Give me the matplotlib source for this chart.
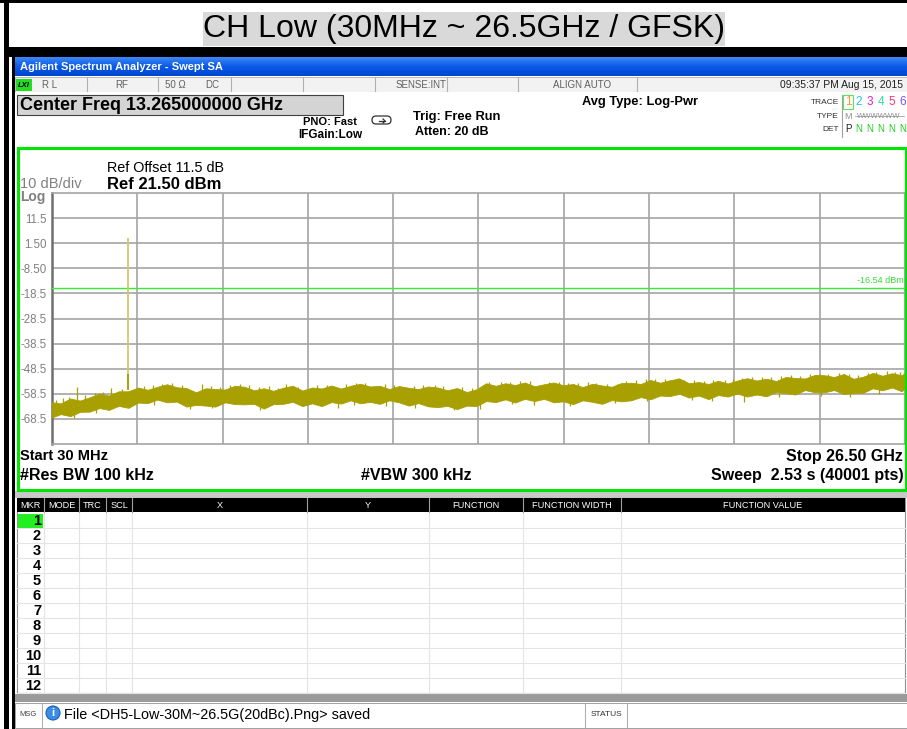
import numpy as np
import matplotlib
matplotlib.use('Agg')
import matplotlib.pyplot as plt
from matplotlib.patches import Rectangle, FancyBboxPatch, Circle
from matplotlib.colors import LinearSegmentedColormap

plt.rcParams['font.family'] = ['Liberation Sans', 'DejaVu Sans']

# ---------------- data ----------------
start_ghz = 0.03
stop_ghz = 26.5
ref_level_dbm = 21.5
bottom_dbm = -78.5
display_line_dbm = -16.54

freq_ghz = [0.03, 0.3, 0.6, 0.9, 1.2, 1.5, 1.8, 2.1, 2.4, 2.7,
            3.0, 3.3, 3.6, 3.9, 4.2, 4.5, 4.8, 5.1, 5.4, 5.7,
            6.0, 6.3, 6.6, 6.9, 7.2, 7.5, 7.8, 8.1, 8.4, 8.7,
            9.0, 9.3, 9.6, 9.9, 10.2, 10.5, 10.8, 11.1, 11.4, 11.7,
            12.0, 12.3, 12.6, 12.9, 13.2, 13.5, 13.8, 14.1, 14.4, 14.7,
            15.0, 15.3, 15.6, 15.9, 16.2, 16.5, 16.8, 17.1, 17.4, 17.7,
            18.0, 18.3, 18.6, 18.9, 19.2, 19.5, 19.8, 20.1, 20.4, 20.7,
            21.0, 21.3, 21.6, 21.9, 22.2, 22.5, 22.8, 23.1, 23.4, 23.7,
            24.0, 24.3, 24.6, 24.9, 25.2, 25.5, 25.8, 26.1, 26.4, 26.5]
trace_top_dbm = [-61.9, -62.3, -60.4, -61.2, -59.9, -58.4, -59.2, -57.5, -57.5, -56.0,
                 -56.9, -55.7, -54.7, -55.9, -56.2, -57.9, -56.3, -56.6, -56.8, -55.3,
                 -55.7, -57.1, -56.3, -57.3, -56.1, -55.3, -57.2, -56.0, -56.4, -55.2,
                 -56.4, -55.3, -54.5, -55.6, -55.3, -56.6, -55.4, -56.1, -56.6, -55.6,
                 -56.0, -57.1, -56.2, -57.8, -56.7, -54.3, -55.3, -54.3, -55.0, -54.0,
                 -55.5, -54.7, -54.0, -55.1, -54.6, -55.8, -54.5, -55.2, -55.7, -54.2,
                 -54.1, -54.6, -53.0, -54.1, -53.1, -52.4, -54.3, -53.8, -54.6, -53.3,
                 -54.4, -53.2, -52.3, -53.2, -52.5, -53.4, -51.8, -52.2, -52.4, -51.0,
                 -51.1, -51.8, -50.6, -52.5, -51.7, -50.2, -51.3, -50.3, -51.1, -50.2]
trace_bottom_dbm = [-67.9, -66.6, -67.4, -65.7, -65.6, -64.2, -64.9, -63.3, -64.1, -62.0,
                    -62.2, -60.8, -61.9, -61.6, -63.6, -62.9, -63.2, -63.6, -61.9, -62.6,
                    -62.7, -62.5, -64.4, -62.6, -62.5, -61.7, -63.4, -62.3, -63.4, -61.8,
                    -62.4, -61.1, -62.3, -61.7, -62.5, -61.1, -61.9, -63.2, -62.2, -63.5,
                    -63.8, -63.3, -64.6, -63.2, -63.4, -61.4, -61.8, -60.7, -62.0, -60.5,
                    -61.4, -60.5, -61.9, -61.5, -62.6, -61.1, -61.7, -62.5, -61.0, -61.5,
                    -61.1, -59.8, -60.7, -59.2, -59.4, -58.5, -60.0, -59.2, -60.6, -59.0,
                    -59.6, -58.4, -59.6, -58.8, -59.5, -57.8, -58.2, -58.8, -57.0, -57.9,
                    -57.9, -57.0, -58.6, -58.1, -58.1, -56.3, -57.1, -56.0, -57.5, -56.1]

# spurs / noise whiskers above the floor
whisker_freq_ghz = [0.37, 0.80, 1.05, 1.87, 2.9, 3.75, 4.68, 5.55, 6.15, 7.30,
                    8.25, 9.45, 10.35, 11.9, 13.6, 14.55, 15.75, 16.9, 18.75, 19.45,
                    20.9, 21.75, 22.95, 24.1, 25.6, 26.2,
                    0.15, 0.55, 1.35, 1.6, 2.2, 3.15, 3.45, 4.05, 4.95, 5.25,
                    5.85, 6.45, 6.75, 7.05, 7.65, 8.55, 9.15, 9.75, 10.65, 11.25,
                    11.55, 12.15, 12.75, 13.05, 13.95, 14.25, 14.85, 15.45, 16.05, 16.35,
                    16.65, 17.25, 17.55, 17.85, 18.15, 18.45, 19.05, 19.65, 19.95, 20.25,
                    20.55, 21.15, 21.45, 22.05, 22.35, 22.65, 23.25, 23.55, 23.85, 24.45,
                    24.75, 25.05, 25.35, 25.95, 26.35]
whisker_top_dbm = [-60.0, -55.7, -59.0, -56.1, -55.2, -54.3, -54.5, -54.8, -55.0, -54.5,
                   -55.0, -54.0, -54.6, -55.0, -53.8, -53.4, -53.8, -54.0, -52.6, -52.4,
                   -53.0, -52.0, -51.2, -50.8, -49.8, -50.0,
                   -61.0, -59.8, -58.3, -57.6, -56.4, -55.0, -54.6, -55.0, -55.5, -55.6,
                   -54.6, -55.8, -55.5, -56.0, -55.8, -55.0, -54.6, -54.2, -55.0, -55.2,
                   -54.8, -55.4, -55.8, -56.0, -53.6, -53.8, -53.4, -53.8, -54.0, -54.3,
                   -53.6, -54.4, -54.6, -53.4, -53.2, -52.8, -52.6, -53.0, -53.2, -53.4,
                   -53.0, -52.6, -52.4, -51.8, -52.0, -51.6, -51.4, -50.8, -50.6, -50.2,
                   -50.8, -51.0, -50.4, -49.6, -49.8]
whisker_base_dbm = [-63.5, -62.5, -62.0, -60.5, -58.5, -58.0, -59.5, -59.0, -59.0, -59.0,
                    -59.0, -58.0, -58.5, -59.0, -57.5, -57.5, -57.5, -58.0, -56.5, -56.0,
                    -56.5, -55.5, -55.0, -54.5, -53.5, -53.5,
                    -64.0, -63.0, -62.0, -61.0, -60.0, -58.0, -58.0, -58.0, -59.0, -59.0,
                    -58.0, -59.0, -59.0, -59.0, -59.0, -58.0, -58.0, -58.0, -58.0, -58.0,
                    -58.0, -58.5, -59.0, -59.0, -57.0, -57.0, -57.0, -57.0, -57.0, -57.0,
                    -57.0, -57.0, -57.0, -57.0, -56.0, -56.0, -56.0, -56.0, -56.0, -56.0,
                    -56.0, -56.0, -56.0, -55.0, -55.0, -55.0, -55.0, -54.0, -54.0, -54.0,
                    -54.0, -54.0, -54.0, -53.0, -53.0]
# downward noise whiskers below the floor
dip_freq_ghz = [4.3, 8.9, 12.5, 15.0, 21.5, 0.7, 1.4, 3.2, 5.0, 6.5,
                9.4, 10.4, 11.3, 13.3, 14.3, 16.1, 17.5, 18.5, 19.9, 20.5,
                22.6, 23.9, 24.8, 25.7]
dip_bottom_dbm = [-64.5, -64.0, -65.0, -63.0, -61.6, -68.3, -66.0, -63.0, -64.2, -64.8,
                  -63.0, -63.2, -64.0, -64.4, -62.6, -63.2, -62.2, -61.5, -61.0, -61.4,
                  -59.8, -59.2, -59.6, -58.4]
dip_top_dbm = [-60.0, -60.0, -60.5, -58.5, -57.0, -65.0, -63.0, -60.0, -61.0, -61.0,
               -60.0, -60.0, -61.0, -61.0, -60.0, -60.0, -59.0, -58.0, -58.0, -58.0,
               -57.0, -56.0, -56.0, -55.0]

carrier_freq_ghz = 2.402
carrier_peak_dbm = 3.5
carrier_shoulder_dbm = -50.8

y_tick_values = [11.5, 1.5, -8.5, -18.5, -28.5, -38.5, -48.5, -58.5, -68.5]
y_tick_labels = ['11.5', '1.50', '-8.50', '-18.5', '-28.5', '-38.5', '-48.5', '-58.5', '-68.5']

table_columns = ['MKR', 'MODE', 'TRC', 'SCL', 'X', 'Y', 'FUNCTION', 'FUNCTION WIDTH', 'FUNCTION VALUE']
table_col_edges = [17, 44, 79, 106, 132, 307, 429, 523, 621, 905]
marker_rows = ['1', '2', '3', '4', '5', '6', '7', '8', '9', '10', '11', '12']

# ---------------- figure ----------------
W, H = 907, 729
fig = plt.figure(figsize=(W / 100, H / 100), dpi=100, facecolor='white')

bg = fig.add_axes([0, 0, 1, 1], zorder=0)
bg.axis('off')


def rect(ax, x0, y0, x1, y1, fc='none', ec='none', lw=0, z=1):
    ax.add_patch(Rectangle((x0, y0), x1 - x0, y1 - y0, facecolor=fc, edgecolor=ec, linewidth=lw, zorder=z))


def txt(ax, x, y, s, size=8, weight='normal', color='black', ha='left', va='center', z=5, **kw):
    ax.text(x, y, s, fontsize=size, fontweight=weight, color=color, ha=ha, va=va, zorder=z, **kw)


# window title bar gradient
grad = np.linspace(0, 1, 20).reshape(-1, 1)
cm = LinearSegmentedColormap.from_list('bar', ['#3c86f5', '#0a5ae6', '#0046d0'])
bg.imshow(grad, cmap=cm, extent=[15, W, 76, 57], aspect='auto', zorder=1)
bg.set_xlim(0, W)
bg.set_ylim(H, 0)
txt(bg, 20, 67, 'Agilent Spectrum Analyzer - Swept SA', size=8, weight='bold', color='white')

# outer frame
rect(bg, 0, 0, W, 3, fc='black')
rect(bg, 4, 0, 9, H, fc='black')
rect(bg, 12, 47, 15, H, fc='black')
rect(bg, 9, 47, W, 57, fc='black')

# title
rect(bg, 203, 12, 725, 46, fc='#d9d9d9')
txt(bg, 464, 29, 'CH Low (30MHz ~ 26.5GHz / GFSK)', size=23, ha='center')

# status row
rect(bg, 15, 77, W, 92, fc='#f2f2f2', ec='#b0b0b0', lw=0.6)
for sx in [87, 158, 231, 303, 375, 447, 518, 637]:
    bg.plot([sx, sx], [78, 91], color='#b0b0b0', lw=0.8, zorder=2)
rect(bg, 16, 79, 32, 91, fc='#22dd22', z=3)
txt(bg, 24, 85, 'LXI', size=5.5, weight='bold', ha='center', style='italic')
scol = '#606060'
txt(bg, 42, 85, 'R L', size=7, color=scol)
txt(bg, 122, 85, 'RF', size=7, color=scol, ha='center')
txt(bg, 165, 85, '50 Ω', size=7, color=scol)
txt(bg, 205, 85, 'DC', size=7, color=scol)
txt(bg, 446, 85, 'SENSE:INT', size=7, color=scol, ha='right')
txt(bg, 582, 85, 'ALIGN AUTO', size=7, color=scol, ha='center')
txt(bg, 903, 85, '09:35:37 PM Aug 15, 2015', size=7.5, color='#202020', ha='right')

# settings area
rect(bg, 15, 92, W, 145, fc='white')
rect(bg, 17, 95, 343, 115, fc='#d4d4d4', ec='#404040', lw=0.8, z=2)
txt(bg, 20, 105, 'Center Freq 13.265000000 GHz', size=13, weight='bold')
txt(bg, 357, 122, 'PNO: Fast', size=8, weight='bold', ha='right')
txt(bg, 362, 135, 'IFGain:Low', size=8.5, weight='bold', ha='right')
bg.add_patch(FancyBboxPatch((372, 116), 19, 8, boxstyle='round,pad=0,rounding_size=4',
                            facecolor='white', edgecolor='#303030', lw=0.9, zorder=3))
bg.plot([379, 385], [121, 121], color='#303030', lw=0.9, zorder=4)
bg.plot([383, 385, 383], [119, 121, 123], color='#303030', lw=0.9, zorder=4)
txt(bg, 413, 117, 'Trig: Free Run', size=9.3, weight='bold')
txt(bg, 415, 132, 'Atten: 20 dB', size=9, weight='bold')
txt(bg, 640, 102, 'Avg Type: Log-Pwr', size=9.3, weight='bold', ha='center')
txt(bg, 839, 102, 'TRACE', size=6, ha='right', color='#303030')
txt(bg, 839, 116, 'TYPE', size=6, ha='right', color='#303030')
txt(bg, 839, 129, 'DET', size=6, ha='right', color='#303030')
bg.plot([842, 842], [95, 137], color='#a0a0a0', lw=0.8, zorder=2)
rect(bg, 843, 95, 853, 109, fc='none', ec='#60e060', lw=0.8, z=3)
trace_digits = ['1', '2', '3', '4', '5', '6']
trace_colors = ['#f0a020', '#20c8f0', '#e020d0', '#30e0a0', '#ff3070', '#8050ff']
trace_x = [848, 859, 870, 881, 892, 903]
for d, c, xx in zip(trace_digits, trace_colors, trace_x):
    txt(bg, xx, 102, d, size=8.5, color=c, ha='center')
txt(bg, 848, 116, 'M', size=6.5, color='#909090', ha='center')
txt(bg, 879, 116, 'WWWWWW', size=5.5, color='#909090', ha='center')
bg.plot([855, 904], [116, 116], color='#909090', lw=0.5, zorder=6)
txt(bg, 848, 129, 'P', size=7, color='#202020', ha='center')
for xx in trace_x[1:]:
    txt(bg, xx, 129, 'N', size=7, color='#20d020', ha='center')

# plot panel
rect(bg, 17, 147, 906, 490, fc='white')
txt(bg, 107, 168, 'Ref Offset 11.5 dB', size=10.4)
txt(bg, 107, 184, 'Ref 21.50 dBm', size=12, weight='bold')
txt(bg, 20, 184, '10 dB/div', size=10.5, color='#808080')
txt(bg, 20, 197, 'Log', size=10, color='#808080', weight='bold')
txt(bg, 20, 456, 'Start 30 MHz', size=10.5, weight='bold')
txt(bg, 903, 456, 'Stop 26.50 GHz', size=11.5, weight='bold', ha='right')
txt(bg, 20, 475, '#Res BW 100 kHz', size=11.5, weight='bold')
txt(bg, 416, 475, '#VBW 300 kHz', size=11.5, weight='bold', ha='center')
txt(bg, 904, 475, 'Sweep  2.53 s (40001 pts)', size=11.5, weight='bold', ha='right')

# gap between panel and table
rect(bg, 15, 491, W, 498, fc='#c8c8c8')

# marker table
rect(bg, 17, 498, 905, 693, fc='white', ec='#909090', lw=0.8)
rect(bg, 17, 498, 905, 512, fc='black', z=2)
for i, name in enumerate(table_columns):
    x0, x1 = table_col_edges[i], table_col_edges[i + 1]
    if i > 0:
        bg.plot([x0, x0], [498, 512], color='#a0a0a0', lw=0.8, zorder=3)
        bg.plot([x0, x0], [513, 693], color='#e4e4e4', lw=0.8, zorder=2)
    txt(bg, (x0 + x1) / 2, 505.5, name, size=6.6, color='white', ha='center')
row_h = 15
for r, lab in enumerate(marker_rows):
    y0 = 513 + r * row_h
    bg.plot([17, 905], [y0 + row_h, y0 + row_h], color='#e4e4e4', lw=0.8, zorder=2)
    if r == 0:
        rect(bg, 18, y0 + 1, 43, y0 + row_h, fc='#22ee22', z=2)
    txt(bg, 41, y0 + 8, lab, size=10.5, weight='bold', ha='right')

# grey bar and message bar
rect(bg, 15, 694, W, 702, fc='#9a9a9a')
rect(bg, 15, 703, W, 728, fc='white', ec='#909090', lw=0.6)
bg.plot([42, 42], [704, 727], color='#b0b0b0', lw=0.8)
bg.plot([585, 585], [704, 727], color='#b0b0b0', lw=0.8)
bg.plot([627, 627], [704, 727], color='#b0b0b0', lw=0.8)
txt(bg, 28, 715, 'MSG', size=5.5, color='#404040', ha='center')
bg.add_patch(Circle((53, 713), 7, facecolor='#3a8ee6', edgecolor='#1b5fb0', lw=0.8, zorder=3))
txt(bg, 53, 713, 'i', size=8, weight='bold', color='white', ha='center', z=4)
txt(bg, 64, 715, 'File <DH5-Low-30M~26.5G(20dBc).Png> saved', size=10.4)
txt(bg, 606, 715, 'STATUS', size=6, color='#303030', ha='center')

# ---------------- spectrum axes ----------------
ax = fig.add_axes([52 / W, (H - 444) / H, 853 / W, 251 / H], zorder=2)
ax.set_facecolor('white')
ax.set_xlim(start_ghz, stop_ghz)
ax.set_ylim(bottom_dbm, ref_level_dbm)
ax.set_xticks(np.linspace(start_ghz, stop_ghz, 11))
ax.set_xticklabels([])
ax.set_yticks(y_tick_values)
ax.set_yticklabels(y_tick_labels)
ax.tick_params(axis='both', length=0)
ax.tick_params(axis='y', labelsize=8.3, labelcolor='#808080', pad=4)
ax.grid(True, color='#a4a4a4', lw=1.2)
ax.set_axisbelow(True)
for s in ['top', 'bottom', 'right']:
    ax.spines[s].set_color('#a4a4a4')
    ax.spines[s].set_linewidth(1.2)
ax.spines['left'].set_color('#707070')
ax.spines['left'].set_linewidth(1.8)

trace_col = '#a8a000'
ax.axhline(display_line_dbm, color='#33ee33', lw=1.0, zorder=3)
ax.text(stop_ghz - 0.05, display_line_dbm + 1.2, '-16.54 dBm', fontsize=6.5, color='#33dd33',
        ha='right', va='bottom', zorder=4)
ax.vlines([carrier_freq_ghz], [-56.0], [carrier_peak_dbm], color='#d2ca6a', lw=1.3, zorder=3)
ax.vlines([carrier_freq_ghz], [-57.0], [carrier_shoulder_dbm], color=trace_col, lw=1.3, zorder=4)
ax.fill_between(freq_ghz, trace_bottom_dbm, trace_top_dbm, color=trace_col, lw=0.6,
                edgecolor=trace_col, zorder=4)
ax.vlines(whisker_freq_ghz, whisker_base_dbm, whisker_top_dbm, color=trace_col, lw=0.9, zorder=4)
ax.vlines(dip_freq_ghz, dip_bottom_dbm, dip_top_dbm, color=trace_col, lw=0.9, zorder=4)

# green panel border on top
fg = fig.add_axes([0, 0, 1, 1], zorder=5)
fg.set_xlim(0, W)
fg.set_ylim(H, 0)
fg.axis('off')
fg.patch.set_alpha(0)
rect(fg, 17.5, 147.5, 905.5, 489.5, ec='#00e600', lw=2.2)

fig.savefig('out.png', dpi=100, facecolor='white')
